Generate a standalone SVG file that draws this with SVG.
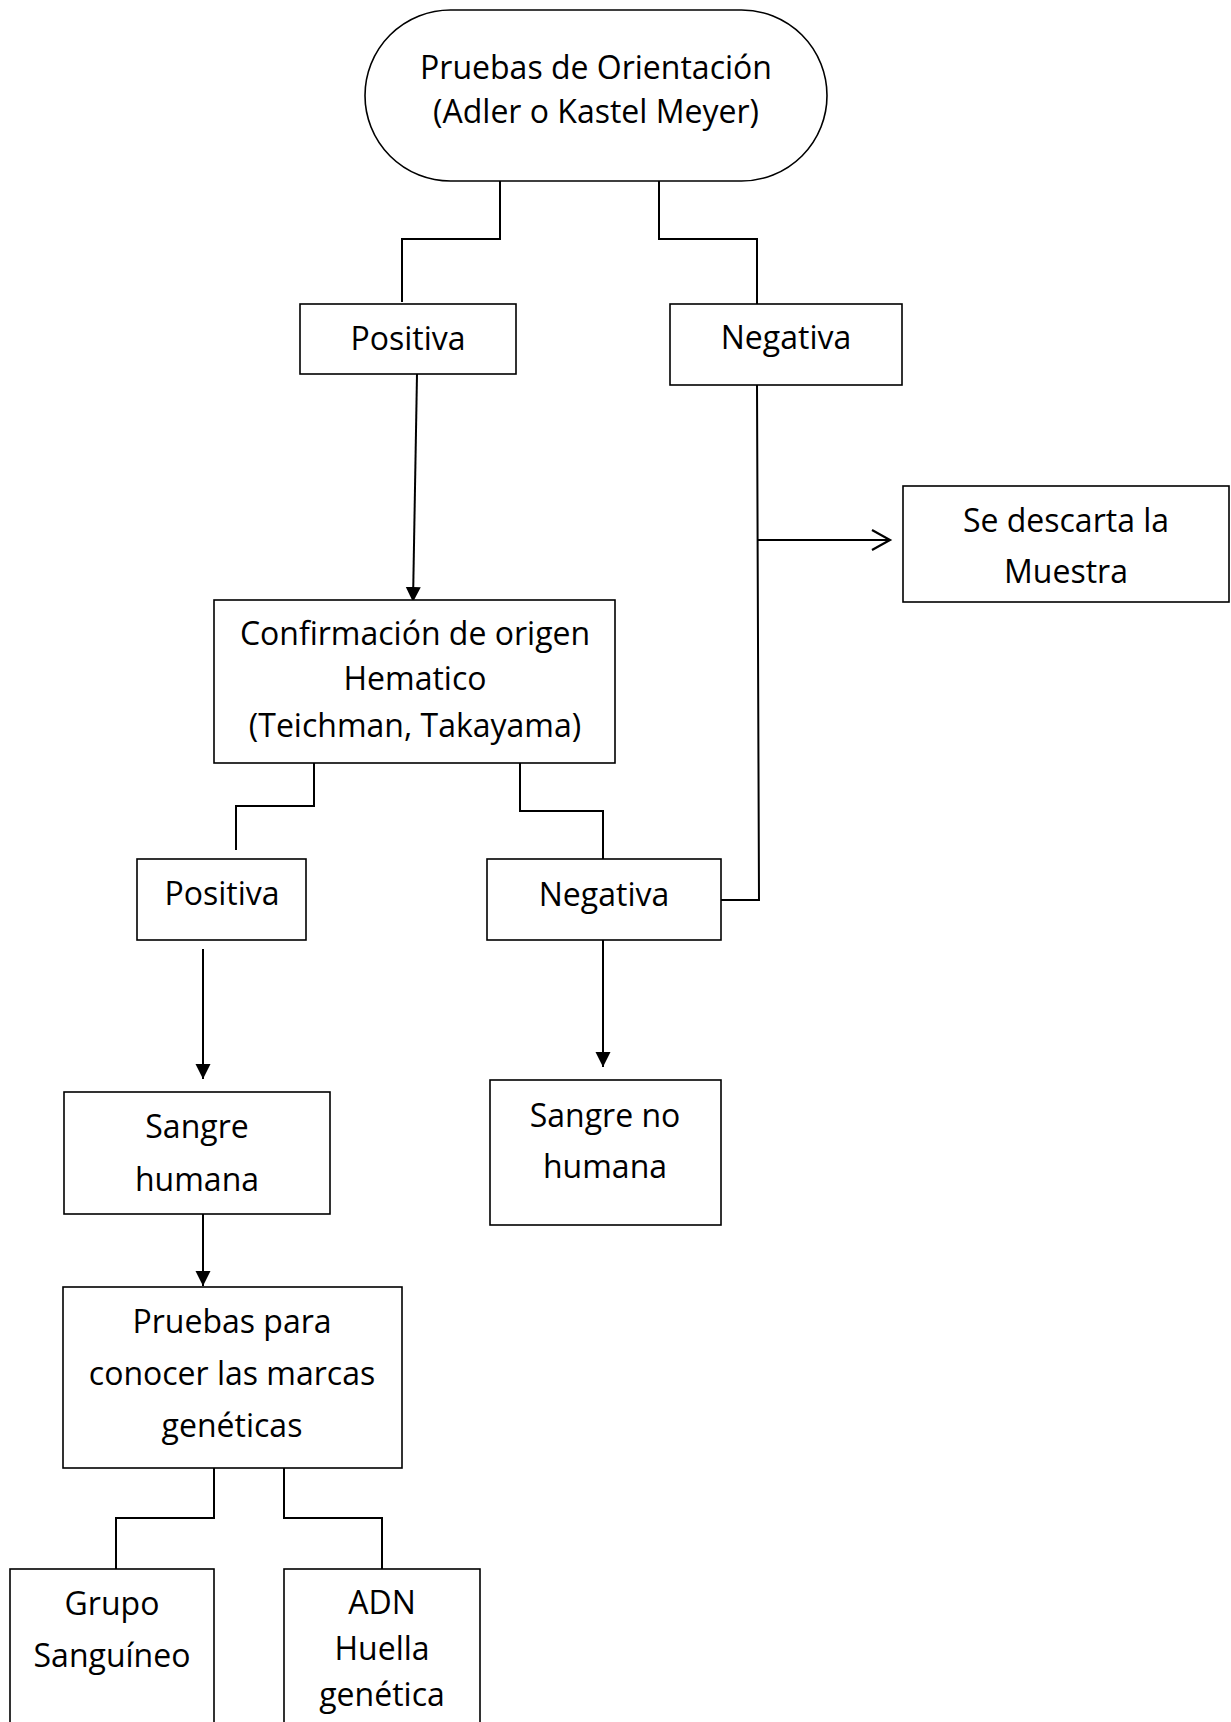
<svg xmlns="http://www.w3.org/2000/svg" width="1231" height="1722" viewBox="0 0 1231 1722">
<defs>
<style>
.box{fill:#fff;stroke:#000;stroke-width:1.6}
.conn{fill:none;stroke:#000;stroke-width:2}
text{font-family:"Open Sans","Noto Sans","DejaVu Sans",sans-serif;font-size:32px;fill:#000;text-anchor:middle}
</style>
<marker id="tri" markerUnits="userSpaceOnUse" markerWidth="16" markerHeight="16" refX="15" refY="7.5" orient="auto">
<path d="M0,0 L15,7.5 L0,15 Z" fill="#000"/>
</marker>
<marker id="open" markerUnits="userSpaceOnUse" markerWidth="22" markerHeight="24" refX="19" refY="11" orient="auto">
<path d="M1,1 L19,11 L1,21" fill="none" stroke="#000" stroke-width="2.2"/>
</marker>
</defs>
<rect width="1231" height="1722" fill="#fff"/>

<g id="connectors">
<polyline class="conn" points="500,181 500,239 402,239 402,302"/>
<polyline class="conn" points="659,181 659,239 757,239 757,304"/>
<line class="conn" x1="417" y1="374" x2="413" y2="602" marker-end="url(#tri)"/>
<polyline class="conn" points="757,385 759,900 721,900"/>
<line class="conn" x1="758" y1="540" x2="890" y2="540" marker-end="url(#open)"/>
<polyline class="conn" points="314,763 314,806 236,806 236,850"/>
<polyline class="conn" points="520,763 520,811 603,811 603,859"/>
<line class="conn" x1="203" y1="949" x2="203" y2="1079" marker-end="url(#tri)"/>
<line class="conn" x1="603" y1="940" x2="603" y2="1067" marker-end="url(#tri)"/>
<line class="conn" x1="203" y1="1214" x2="203" y2="1286" marker-end="url(#tri)"/>
<polyline class="conn" points="214,1468 214,1518 116,1518 116,1569"/>
<polyline class="conn" points="284,1468 284,1518 382,1518 382,1569"/>
</g>

<g id="n-orientacion">
<rect class="box" x="365" y="10" width="462" height="171" rx="85.5" ry="85.5"/>
<text x="596" y="79">Pruebas de Orientación</text>
<text x="596" y="123">(Adler o Kastel Meyer)</text>
</g>

<g id="n-positiva1">
<rect class="box" x="300" y="304" width="216" height="70"/>
<text x="408" y="350">Positiva</text>
</g>

<g id="n-negativa1">
<rect class="box" x="670" y="304" width="232" height="81"/>
<text x="786" y="349">Negativa</text>
</g>

<g id="n-descarta">
<rect class="box" x="903" y="486" width="326" height="116"/>
<text x="1066" y="532">Se descarta la</text>
<text x="1066" y="583">Muestra</text>
</g>

<g id="n-confirmacion">
<rect class="box" x="214" y="600" width="401" height="163"/>
<text x="415" y="645">Confirmación de origen</text>
<text x="415" y="690">Hematico</text>
<text x="415" y="737">(Teichman, Takayama)</text>
</g>

<g id="n-positiva2">
<rect class="box" x="137" y="859" width="169" height="81"/>
<text x="222" y="905">Positiva</text>
</g>

<g id="n-negativa2">
<rect class="box" x="487" y="859" width="234" height="81"/>
<text x="604" y="906">Negativa</text>
</g>

<g id="n-sangre-humana">
<rect class="box" x="64" y="1092" width="266" height="122"/>
<text x="197" y="1138">Sangre</text>
<text x="197" y="1191">humana</text>
</g>

<g id="n-sangre-no-humana">
<rect class="box" x="490" y="1080" width="231" height="145"/>
<text x="605" y="1127">Sangre no</text>
<text x="605" y="1178">humana</text>
</g>

<g id="n-marcas">
<rect class="box" x="63" y="1287" width="339" height="181"/>
<text x="232" y="1333">Pruebas para</text>
<text x="232" y="1385">conocer las marcas</text>
<text x="232" y="1437">genéticas</text>
</g>

<g id="n-grupo">
<rect class="box" x="10" y="1569" width="204" height="170"/>
<text x="112" y="1615">Grupo</text>
<text x="112" y="1667">Sanguíneo</text>
</g>

<g id="n-adn">
<rect class="box" x="284" y="1569" width="196" height="170"/>
<text x="382" y="1614">ADN</text>
<text x="382" y="1660">Huella</text>
<text x="382" y="1706">genética</text>
</g>
</svg>
